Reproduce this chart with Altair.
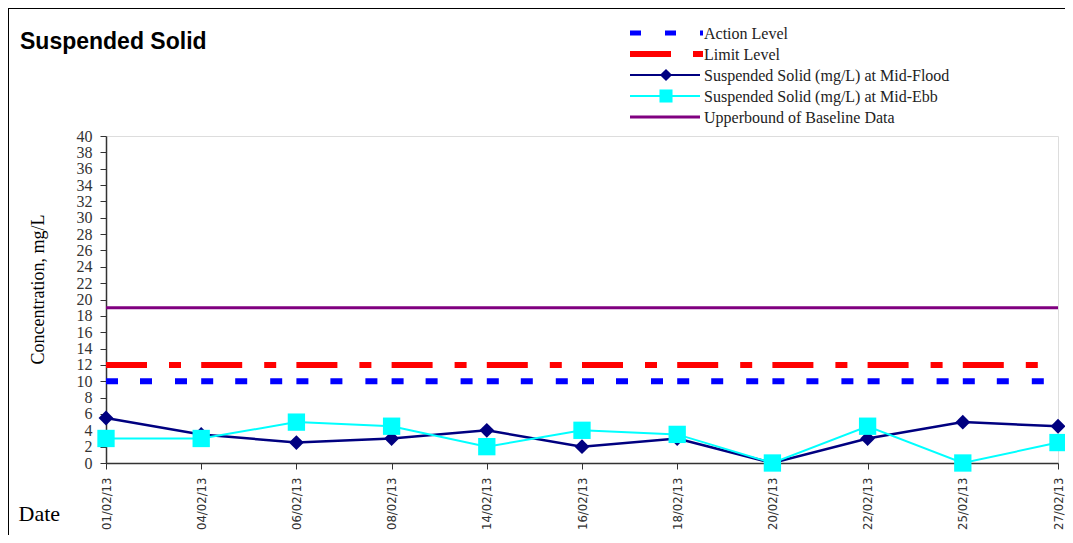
import altair as alt
import pandas as pd

dates = ["01/02/13", "04/02/13", "06/02/13", "08/02/13", "14/02/13", "16/02/13",
         "18/02/13", "20/02/13", "22/02/13", "25/02/13", "27/02/13"]
flood = [5.5, 3.5, 2.5, 3, 4, 2, 3, 0, 3, 5, 4.5]
ebb = [3, 3, 5, 4.5, 2, 4, 3.5, 0, 4.5, 0, 2.5]
action_level = 10
limit_level = 12
baseline_upper = 19
legend_labels = ["Action Level", "Limit Level",
                 "Suspended Solid (mg/L) at Mid-Flood",
                 "Suspended Solid (mg/L) at Mid-Ebb",
                 "Upperbound of Baseline Data"]

NAVY = "#000080"
CYAN = "#00FFFF"
BLUE = "#0000FF"
RED = "#FF0000"
PURPLE = "#800080"
SERIF = "Liberation Serif, Times New Roman, serif"
NARROW = "DejaVu Sans Condensed, Liberation Sans Narrow, sans-serif"

W, H = 952, 327
PL = 98  # left padding

df = pd.DataFrame({"date": dates, "flood": flood, "ebb": ebb})

xax = alt.Axis(labelAngle=270, labelAlign="right", labelBaseline="middle",
               labelFont=NARROW, labelFontSize=13, labelColor="#333",
               labelOverlap=False, tickSize=6, labelPadding=8,
               domainColor="#333", tickColor="#333", domainWidth=1.5,
               title="Date", titleX=-88, titleY=57, titleAlign="left",
               titleBaseline="alphabetic", titleFont=SERIF, titleFontSize=22,
               titleFontWeight="normal", titleColor="black", grid=False)
yax = alt.Axis(values=list(range(0, 41, 2)), tickSize=6, labelPadding=8,
               labelFont=SERIF, labelFontSize=16, labelColor="#333",
               labelOverlap=False, domainColor="#333", tickColor="#333",
               domainWidth=1.5,
               title="Concentration, mg/L", titleFont=SERIF, titleFontSize=18,
               titleFontWeight="normal", titleColor="black", titleX=-68,
               titleY=153, titleAngle=270, titleAlign="center",
               titleBaseline="middle", grid=False)
xscale = alt.Scale(type="point", padding=0)
yscale = alt.Scale(domain=[0, 40], nice=False)

X = alt.X("date:N", sort=dates, scale=xscale, axis=xax)


def level_rule(val, color, width, dash):
    d = pd.DataFrame({"v": [val]})
    kw = dict(color=color, strokeWidth=width)
    if dash:
        kw["strokeDash"] = dash
    return alt.Chart(d).mark_rule(**kw).encode(
        x=alt.value(0), x2=alt.value(W),
        y=alt.Y("v:Q", scale=yscale, axis=yax))


baseline_rule = level_rule(baseline_upper, PURPLE, 3, None)
limit_rule = level_rule(limit_level, RED, 6, [41, 22, 12, 20.2])
action_rule = level_rule(action_level, BLUE, 6, [12, 22, 12, 23, 12, 14.2])

base = alt.Chart(df)
flood_line = base.mark_line(color=NAVY, strokeWidth=2.5).encode(
    x=X, y=alt.Y("flood:Q", scale=yscale, axis=yax))
flood_pts = base.mark_point(shape="diamond", filled=True, size=220, color=NAVY,
                            opacity=1).encode(
    x=X, y=alt.Y("flood:Q", scale=yscale, axis=yax))
ebb_line = base.mark_line(color=CYAN, strokeWidth=2).encode(
    x=X, y=alt.Y("ebb:Q", scale=yscale, axis=yax))
ebb_pts = base.mark_point(shape="square", filled=True, size=300, color=CYAN,
                          opacity=1).encode(
    x=X, y=alt.Y("ebb:Q", scale=yscale, axis=yax))

# Legend (decoration), drawn above the plot area
rows = [-103, -82, -61, -40, -19]
LX = 524
leg_styles = [
    dict(color=BLUE, strokeWidth=5, strokeDash=[11, 24], x2=LX + 73),
    dict(color=RED, strokeWidth=6, strokeDash=[41, 22], x2=LX + 73),
    dict(color=NAVY, strokeWidth=2, x2=LX + 70),
    dict(color=CYAN, strokeWidth=2, x2=LX + 70),
    dict(color=PURPLE, strokeWidth=3, x2=LX + 70),
]
legend_layers = []
for i, (lab, st, yy) in enumerate(zip(legend_labels, leg_styles, rows)):
    d = pd.DataFrame({"label": [lab]})
    st = dict(st)
    x2 = st.pop("x2")
    legend_layers.append(alt.Chart(d).mark_rule(**st).encode(
        x=alt.value(LX), x2=alt.value(x2), y=alt.value(yy)))
    if i == 2:
        legend_layers.append(alt.Chart(d).mark_point(
            shape="diamond", filled=True, size=150, color=NAVY, opacity=1).encode(
            x=alt.value(LX + 36), y=alt.value(yy)))
    if i == 3:
        legend_layers.append(alt.Chart(d).mark_point(
            shape="square", filled=True, size=170, color=CYAN, opacity=1).encode(
            x=alt.value(LX + 36), y=alt.value(yy)))
    legend_layers.append(alt.Chart(d).mark_text(
        align="left", baseline="middle", font=SERIF, fontSize=16,
        color="#222").encode(
        x=alt.value(LX + 74), y=alt.value(yy + 1), text="label:N"))

title_df = pd.DataFrame({"t": ["Suspended Solid"]})
title = alt.Chart(title_df).mark_text(
    align="left", baseline="alphabetic", font="Liberation Sans, Arial, sans-serif",
    fontSize=23, fontWeight="bold", color="black").encode(
    x=alt.value(-86), y=alt.value(-87), text="t:N")

frame = alt.Chart(title_df).mark_rect(
    fillOpacity=0, stroke="black", strokeWidth=2).encode(
    x=alt.value(-PL), x2=alt.value(1100), y=alt.value(-128), y2=alt.value(700))

chart = alt.layer(
    frame, title, baseline_rule, limit_rule, action_rule,
    flood_line, flood_pts, ebb_line, ebb_pts, *legend_layers
).properties(
    width=W, height=H,
    autosize=alt.AutoSizeParams(type="none"),
    padding={"left": PL, "top": 128, "right": 7, "bottom": 72},
).configure_view(stroke="#888", strokeWidth=1.5).configure(background="white")

chart.save("out.html", embed_options={"renderer": "svg", "actions": False})
